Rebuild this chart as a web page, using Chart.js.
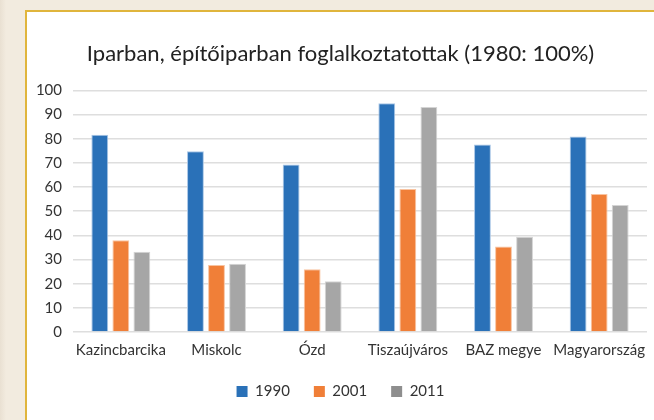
<!DOCTYPE html>
<html>
<head>
<meta charset="utf-8">
<script src="https://cdn.jsdelivr.net/npm/chart.js@4.4.1/dist/chart.umd.min.js"></script>
<style>
  html, body { margin: 0; padding: 0; background: #f2ebdf; overflow: hidden; }
  .page { position: relative; width: 654px; height: 420px; overflow: hidden; background: #f2ebdf; }
  .shade { position: absolute; left: 0; top: 0; width: 6px; height: 420px; background: linear-gradient(to right, #e9e0d2, #f2ebdf); }
  .panel { position: absolute; left: 27px; top: 12px; width: 627px; height: 408px; background: #fff; overflow: hidden; }
  .line-top { position: absolute; left: 25px; top: 10px; width: 629px; height: 2px; background: #e0b53c; }
  .line-left { position: absolute; left: 25px; top: 10px; width: 2px; height: 410px; background: #e0b53c; }
  .box { position: absolute; left: 0; top: 0; width: 641px; height: 408px; }
</style>
</head>
<body>
<div class="page">
  <div class="shade"></div>
  <div class="panel">
    <div class="box"><canvas id="chart"></canvas></div>
  </div>
  <div class="line-top"></div>
  <div class="line-left"></div>
</div>
<script>
// adatok
const categories = ['Kazincbarcika', 'Miskolc', 'Ózd', 'Tiszaújváros', 'BAZ megye', 'Magyarország'];
const values1990 = [81.6, 74.8, 69.3, 94.7, 77.6, 80.9];
const values2001 = [38.0, 27.7, 26.0, 59.2, 35.4, 57.1];
const values2011 = [33.2, 28.2, 21.0, 93.1, 39.4, 52.6];
const yTicks = [0, 10, 20, 30, 40, 50, 60, 70, 80, 90, 100];

const font = "Lato, 'Open Sans', sans-serif";

function bars(label, data, color, edge, legendColor) {
  return {
    label: label,
    data: data,
    backgroundColor: color,
    borderColor: edge,
    borderWidth: 1,
    legendColor: legendColor,
    categoryPercentage: 0.66,
    barPercentage: 0.8
  };
}

const ctx = document.getElementById('chart').getContext('2d');
new Chart(ctx, {
  type: 'bar',
  data: {
    labels: categories,
    datasets: [
      bars('1990', values1990, '#2a71b8', '#a9c6e6', '#2a71b8'),
      bars('2001', values2001, '#f07f38', '#f8c3a0', '#f07f38'),
      bars('2011', values2011, '#a6a6a6', '#d4d4d4', '#8e8e8e')
    ]
  },
  options: {
    responsive: true,
    maintainAspectRatio: false,
    animation: false,
    layout: { padding: { left: 7, right: 21, top: 18, bottom: 11 } },
    plugins: {
      title: {
        display: true,
        text: 'Iparban, építőiparban foglalkoztatottak (1980: 100%)',
        color: '#222',
        font: { family: font, size: 22, weight: 'normal' },
        padding: { top: 11, bottom: 23 }
      },
      legend: {
        position: 'bottom',
        labels: {
          color: '#333',
          font: { family: font, size: 15 },
          boxWidth: 11,
          boxHeight: 11,
          padding: 24,
          generateLabels: function (chart) {
            return chart.data.datasets.map(function (ds, i) {
              return {
                text: ds.label,
                fillStyle: ds.legendColor,
                strokeStyle: ds.legendColor,
                lineWidth: 0,
                datasetIndex: i,
                fontColor: '#333'
              };
            });
          }
        }
      },
      tooltip: { enabled: false }
    },
    scales: {
      x: {
        grid: { display: false },
        border: { display: false },
        ticks: { color: '#333', font: { family: font, size: 15 }, maxRotation: 0, autoSkip: false, padding: 1 }
      },
      y: {
        min: 0,
        max: 100,
        afterBuildTicks: function (axis) {
          axis.ticks = yTicks.map(function (v) { return { value: v }; });
        },
        afterFit: function (axis) { axis.width = 39; },
        grid: { color: '#dedede', lineWidth: 1.5, drawTicks: false },
        border: { display: false },
        ticks: { color: '#333', font: { family: font, size: 15 }, padding: 11 }
      }
    }
  }
});
</script>
</body>
</html>
